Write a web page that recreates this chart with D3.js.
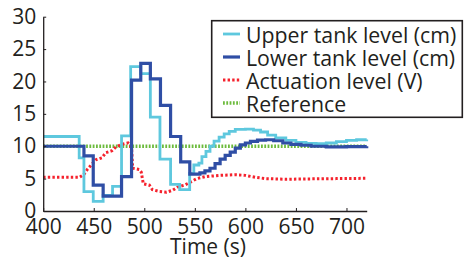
<!DOCTYPE html>
<html><head><meta charset="utf-8">
<script src="https://cdn.jsdelivr.net/npm/d3@7"></script>
<style>body{margin:0;background:#fff}svg{display:block}text{font-family:"Open Sans","Noto Sans",sans-serif;fill:#231f20}</style>
</head><body><div id="c"></div>
<script>
const xTicks = [400, 450, 500, 550, 600, 650, 700];
const yTicks = [0, 5, 10, 15, 20, 25, 30];
const seriesNames = ["Upper tank level (cm)", "Lower tank level (cm)", "Actuation level (V)", "Reference"];
const xLabel = "Time (s)";

const upperT = [400,435.6,440.3,449.5,459.3,468.6,477.5,486.5,496.5,506,515.5,526,535,544.9,549,554,557,561,565,569,574,579,584,590,600,608,615,622,630,640,650,660,670,680,690,700,710,720];
const upperV = [11.5,8.2,3.0,1.5,2.4,3.8,11.6,22.3,21.2,14.5,8.0,4.1,3.3,5.8,7.1,7.4,8.4,9.2,10.0,10.8,11.4,11.9,12.3,12.6,12.65,12.5,12.2,11.7,11.3,10.9,10.6,10.45,10.4,10.5,10.7,10.9,11.0,11.05];

const lowerT = [400,440.3,449.5,459.3,477.5,487.4,496.5,506,516,526,536,545,555,560,565,570,575,580,585,590,595,600,605,612,620,628,637,645,655,665,680,700,720];
const lowerV = [10.0,8.5,4.0,2.3,5.3,20.2,22.8,20.4,16.3,11.5,7.6,5.7,5.9,6.2,6.6,7.3,8.0,8.6,9.1,9.7,10.2,10.5,10.75,10.95,11.0,10.85,10.5,10.3,10.15,10.0,9.9,9.95,10.0];

const actT = [400,436,440,444,448,452,458,462,468,472,478,484,486,487.5,488.5,495,497,499,505,508,515,522,528,533,540,546,552,560,575,590,600,610,620,640,660,690,720];
const actV = [5.2,5.2,5.6,6.5,7.2,7.9,8.2,9.0,9.3,9.9,10.3,10.5,10.2,9.5,6.6,6.4,6.0,4.2,4.0,3.3,3.0,2.9,3.2,3.7,4.0,4.5,5.0,5.3,5.5,5.6,5.5,5.2,5.0,4.9,4.95,5.0,5.05];

const refT = [400, 720];
const refV = [10, 10];

const W = 471, H = 262;
const svg = d3.select("#c").append("svg").attr("width", W).attr("height", H);
const x = d3.scaleLinear().domain([400, 720]).range([43.2, 366.7]);
const y = d3.scaleLinear().domain([0, 30]).range([211, 16.7]);

const colors = ["#5ec8de", "#2f4ea5", "#f5222d", "#6cbb3c"];
const styles = [
  {w: 2.8, dash: null, curve: d3.curveStepAfter},
  {w: 3.2, dash: null, curve: d3.curveStepAfter},
  {w: 3, dash: "2.4,2.2", curve: d3.curveLinear},
  {w: 3.5, dash: "1.8,1.5", curve: d3.curveLinear}
];
const data = [
  upperT.map((t,i)=>[t, upperV[i]]),
  lowerT.map((t,i)=>[t, lowerV[i]]),
  actT.map((t,i)=>[t, actV[i]]),
  refT.map((t,i)=>[t, refV[i]])
];
const plotOrder = [3, 2, 0, 1];
plotOrder.forEach(k => {
  svg.append("path").datum(data[k])
    .attr("fill", "none").attr("stroke", colors[k])
    .attr("stroke-width", styles[k].w)
    .attr("stroke-dasharray", styles[k].dash)
    .attr("d", d3.line().x(d=>x(d[0])).y(d=>y(d[1])).curve(styles[k].curve));
});

// axes
const xa = svg.append("g").attr("transform", `translate(0,${y(0)})`)
  .call(d3.axisBottom(x).tickValues(xTicks).tickSizeInner(-3).tickSizeOuter(0).tickPadding(8));
const ya = svg.append("g").attr("transform", `translate(${x(400)},0)`)
  .call(d3.axisLeft(y).tickValues(yTicks).tickSizeInner(-3).tickSizeOuter(0).tickPadding(7));
[xa, ya].forEach(a => {
  a.select(".domain").attr("stroke", "#231f20").attr("stroke-width", 1.3);
  a.selectAll(".tick line").attr("stroke", "#231f20").attr("stroke-width", 1);
  a.selectAll(".tick text").attr("font-size", 21).attr("font-family", '"Open Sans","Noto Sans",sans-serif').attr("fill", "#231f20");
});
xa.selectAll(".tick text").attr("dy", "0.71em");

svg.append("text").attr("x", 208).attr("y", 254).attr("text-anchor", "middle")
  .attr("font-size", 21).text(xLabel);

// legend
const lg = svg.append("g");
lg.append("rect").attr("x", 211.7).attr("y", 20.7).attr("width", 250.6).attr("height", 96.6)
  .attr("fill", "#fff").attr("stroke", "#231f20").attr("stroke-width", 1.6);
const rowY = [34, 57, 80, 103];
seriesNames.forEach((n, k) => {
  lg.append("line").attr("x1", 223).attr("x2", 240).attr("y1", rowY[k]).attr("y2", rowY[k])
    .attr("stroke", colors[k]).attr("stroke-width", styles[k].w).attr("stroke-dasharray", styles[k].dash);
  lg.append("text").attr("x", 246).attr("y", rowY[k] + 8.5).attr("font-size", 21.3).text(n);
});
</script></body></html>
